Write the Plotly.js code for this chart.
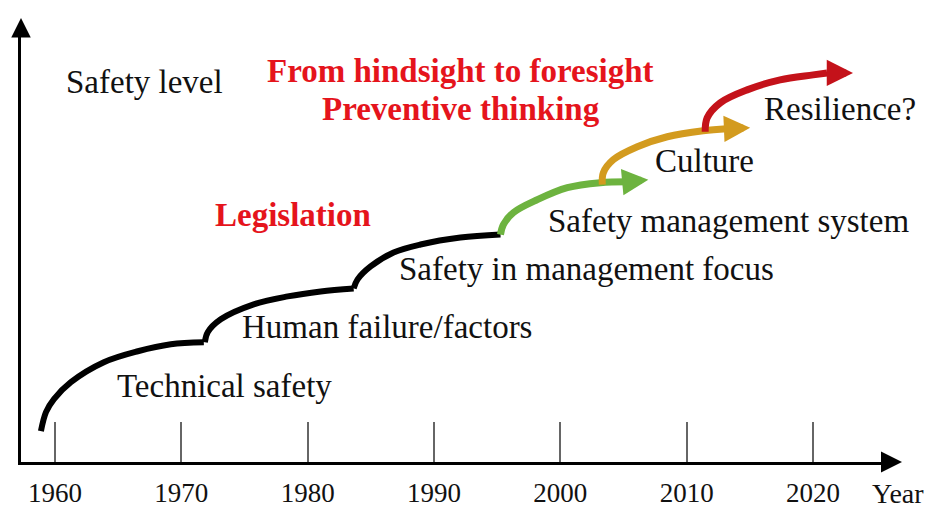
<!DOCTYPE html>
<html><head><meta charset="utf-8">
<script src="https://cdn.plot.ly/plotly-3.0.1.min.js"></script>
<style>html,body{margin:0;padding:0;background:#fff;}</style>
</head><body><div id="chart" style="width:931px;height:511px;"></div>
<script>
// ---- data (year, safety level in arbitrary units) ----
const tickYears = [1960, 1970, 1980, 1990, 2000, 2010, 2020];
const tickLabels = ['1960', '1970', '1980', '1990', '2000', '2010', '2020'];

const technicalYears = [1958.89, 1959.29, 1959.92, 1961.26, 1963.87, 1966.56, 1969.17, 1971.78];
const technicalLevel = [7.75, 12.5, 15.75, 20, 25, 27.75, 29.5, 30];

const humanYears = [1971.86, 1972.09, 1973.12, 1975.73, 1978.42, 1981.03, 1983.64];
const humanLevel = [30, 32.5, 35.75, 39.5, 41.5, 42.75, 43.5];

const mgmtFocusYears = [1983.64, 1983.95, 1984.98, 1986.80, 1988.93, 1992.09, 1995.26];
const mgmtFocusLevel = [43.5, 45.75, 49, 52.5, 54.5, 56.25, 57];

const smsYears = [1995.26, 1995.49, 1996.28, 1998.18, 2000.55, 2003.16, 2005.30, 2006.96];
const smsLevel = [57, 59.5, 62.5, 65.75, 68.75, 70, 70.25, 70.75];

const cultureYears = [2003.32, 2003.40, 2004.19, 2006.09, 2008.46, 2011.30, 2013.20, 2015.02];
const cultureLevel = [69.5, 72.5, 75.75, 79, 81.5, 83, 83.5, 83.75];

const resilienceYears = [2011.46, 2011.62, 2012.65, 2014.78, 2017.39, 2020.0, 2021.11, 2023.16];
const resilienceLevel = [82.75, 86.25, 90, 93.25, 95.75, 97, 97.5, 97.5];

// ---- styling ----
const SERIF = '"Liberation Serif"';
const GREEN = '#6db33f', GOLD = '#d39b1f', DARKRED = '#c4121a', TEXTRED = '#e5141c';

const M = {l: 21, r: 46, t: 37, b: 49};
const W = 931, H = 511;
const PW = W - M.l - M.r, PH = H - M.t - M.b;
const px = x => (x - M.l) / PW;
const py = y => (H - M.b - y) / PH;

function blackSeg(x, y) {
  return {x: x, y: y, type: 'scatter', mode: 'lines', hoverinfo: 'skip',
    line: {color: '#000', width: 6, shape: 'spline', smoothing: 1}};
}
function arrowSeg(x, y, color) {
  return {x: x.slice(0, -1), y: y.slice(0, -1), type: 'scatter', mode: 'lines', hoverinfo: 'skip',
    line: {color: color, width: 7, shape: 'spline', smoothing: 1}};
}
function headAnn(x, y, color) {
  const n = x.length;
  return {x: x[n - 1], y: y[n - 1], ax: x[n - 2], ay: y[n - 2], xref: 'x', yref: 'y',
    axref: 'x', ayref: 'y', text: '', showarrow: true, arrowhead: 2, arrowwidth: 7,
    arrowsize: 0.75, arrowcolor: color, standoff: 0, startstandoff: 0};
}

const traces = [
  blackSeg(technicalYears, technicalLevel),
  blackSeg(humanYears, humanLevel),
  blackSeg(mgmtFocusYears, mgmtFocusLevel),
  arrowSeg(smsYears, smsLevel, GREEN),
  arrowSeg(cultureYears, cultureLevel, GOLD),
  arrowSeg(resilienceYears, resilienceLevel, DARKRED)
];

function label(text, left, cy, opts) {
  opts = opts || {};
  return {xref: 'paper', yref: 'paper', x: px(left), y: py(cy), xanchor: 'left', yanchor: 'middle',
    text: text, showarrow: false,
    font: {family: SERIF, size: opts.size || 33, color: opts.color || '#111'}};
}
function bold(t) { return '<b>' + t + '</b>'; }

const annotations = [
  headAnn(smsYears, smsLevel, GREEN),
  headAnn(cultureYears, cultureLevel, GOLD),
  headAnn(resilienceYears, resilienceLevel, DARKRED),
  // axis arrowheads
  {xref: 'paper', yref: 'paper', x: px(902), y: 0, ax: -19, ay: 0, text: '', showarrow: true,
   arrowhead: 2, arrowwidth: 3, arrowsize: 1.4, arrowcolor: '#000', standoff: 0},
  {xref: 'paper', yref: 'paper', x: 0, y: py(18), ax: 0, ay: 19, text: '', showarrow: true,
   arrowhead: 2, arrowwidth: 3, arrowsize: 1.3, arrowcolor: '#000', standoff: 0},
  label('Safety level', 64, 82),
  label(bold('From hindsight to foresight'), 265, 71, {color: TEXTRED}),
  label(bold('Preventive thinking'), 320, 109, {color: TEXTRED}),
  label(bold('Legislation'), 213, 215, {color: TEXTRED}),
  label('Resilience?', 762, 109),
  label('Culture', 653, 161),
  label('Safety management system', 546, 221),
  label('Safety in management focus', 397, 269),
  label('Human failure/factors', 240, 327),
  label('Technical safety', 115, 386),
  {xref: 'paper', yref: 'paper', x: px(898), y: py(494), xanchor: 'center', yanchor: 'middle',
   text: 'Year', showarrow: false, font: {family: SERIF, size: 28, color: '#111'}}
];

const layout = {
  width: W, height: H, margin: M, showlegend: false,
  paper_bgcolor: '#fff', plot_bgcolor: '#fff',
  font: {family: SERIF},
  xaxis: {range: [1957.312, 2025.692], showgrid: false, zeroline: false,
    tickmode: 'array', tickvals: tickYears, ticktext: tickLabels,
    ticks: 'inside', ticklen: 40, tickwidth: 2, tickcolor: '#666',
    tickfont: {family: SERIF, size: 27, color: '#111'}, ticklabelstandoff: 5,
    showline: true, linewidth: 3, linecolor: '#000', fixedrange: true},
  yaxis: {range: [0, 106.5], showgrid: false, zeroline: false, showticklabels: false,
    ticks: '', showline: true, linewidth: 3, linecolor: '#000', fixedrange: true},
  annotations: annotations
};

Plotly.newPlot('chart', traces, layout, {displayModeBar: false, staticPlot: true});
</script></body></html>
